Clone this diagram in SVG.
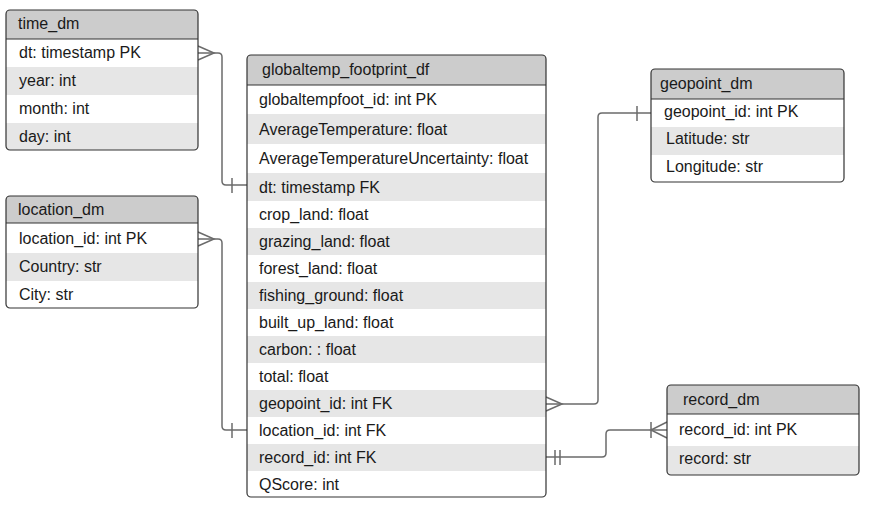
<svg xmlns="http://www.w3.org/2000/svg" width="873" height="513" viewBox="0 0 873 513">
<style>
text{font-family:"Liberation Sans",Arial,sans-serif;font-size:16px;fill:#1a1a1a}
.hd{fill:#cccccc}
.alt{fill:#e6e6e6}
.bg{fill:#ffffff}
.frame{fill:none;stroke:#333333;stroke-width:1.2}
.sep{stroke:#333333;stroke-width:1.2}
.cn{fill:none;stroke:#6b6b6b;stroke-width:1.5}
</style>
<defs>
<clipPath id="c1"><rect x="6" y="10" width="192" height="140" rx="4"/></clipPath>
<clipPath id="c2"><rect x="6" y="196" width="192" height="112" rx="4"/></clipPath>
<clipPath id="c3"><rect x="247" y="55" width="299" height="442" rx="4"/></clipPath>
<clipPath id="c4"><rect x="651" y="69" width="193" height="113" rx="4"/></clipPath>
<clipPath id="c5"><rect x="667" y="385" width="192" height="90" rx="4"/></clipPath>
</defs>
<rect width="873" height="513" fill="#ffffff"/>

<g id="connectors">
<!-- time_dm -> main -->
<path class="cn" d="M198,53 L218,53 Q222,53 222,57 L222,181 Q222,185 226,185 L247,185"/>
<path class="cn" d="M198,46 L214,53 L198,60"/>
<path class="cn" d="M232,178 L232,193"/>
<!-- location_dm -> main -->
<path class="cn" d="M198,239 L218,239 Q222,239 222,243 L222,426 Q222,430 226,430 L247,430"/>
<path class="cn" d="M198,232 L214,239 L198,246"/>
<path class="cn" d="M232,423 L232,438"/>
<!-- main -> geopoint -->
<path class="cn" d="M546,404 L594,404 Q598,404 598,400 L598,117 Q598,113 602,113 L651,113"/>
<path class="cn" d="M546,397 L562,404 L546,411"/>
<path class="cn" d="M637,106 L637,121"/>
<!-- main -> record -->
<path class="cn" d="M546,457 L602,457 Q606,457 606,453 L606,434 Q606,430 610,430 L667,430"/>
<path class="cn" d="M555,450 L555,465 M560,450 L560,465"/>
<path class="cn" d="M667,422 L651,430 L667,438 M651,422 L651,438"/>
</g>

<g id="time_dm">
<g clip-path="url(#c1)">
<rect class="bg" x="6" y="10" width="192" height="140"/>
<rect class="hd" x="6" y="10" width="192" height="29"/>
<rect class="alt" x="6" y="67" width="192" height="28"/>
<rect class="alt" x="6" y="123" width="192" height="27"/>
</g>
<line class="sep" x1="6" y1="39" x2="198" y2="39"/>
<rect class="frame" x="6" y="10" width="192" height="140" rx="4"/>
<text x="18" y="28.5">time_dm</text>
<text x="19" y="58">dt: timestamp PK</text>
<text x="19" y="86">year: int</text>
<text x="19" y="114">month: int</text>
<text x="19" y="141.5">day: int</text>
</g>

<g id="location_dm">
<g clip-path="url(#c2)">
<rect class="bg" x="6" y="196" width="192" height="112"/>
<rect class="hd" x="6" y="196" width="192" height="27"/>
<rect class="alt" x="6" y="253" width="192" height="28"/>
</g>
<line class="sep" x1="6" y1="223" x2="198" y2="223"/>
<rect class="frame" x="6" y="196" width="192" height="112" rx="4"/>
<text x="18" y="215">location_dm</text>
<text x="19" y="244">location_id: int PK</text>
<text x="19" y="271.5">Country: str</text>
<text x="19" y="299.5">City: str</text>
</g>

<g id="globaltemp_footprint_df">
<g clip-path="url(#c3)">
<rect class="bg" x="247" y="55" width="299" height="442"/>
<rect class="hd" x="247" y="55" width="299" height="30"/>
<rect class="alt" x="247" y="114" width="299" height="30"/>
<rect class="alt" x="247" y="173" width="299" height="28"/>
<rect class="alt" x="247" y="228" width="299" height="27"/>
<rect class="alt" x="247" y="282" width="299" height="27"/>
<rect class="alt" x="247" y="336" width="299" height="27"/>
<rect class="alt" x="247" y="390" width="299" height="27"/>
<rect class="alt" x="247" y="444" width="299" height="27"/>
</g>
<line class="sep" x1="247" y1="85" x2="546" y2="85"/>
<rect class="frame" x="247" y="55" width="299" height="442" rx="4"/>
<text x="262" y="74.5">globaltemp_footprint_df</text>
<text x="259" y="105">globaltempfoot_id: int PK</text>
<text x="259" y="134.5">AverageTemperature: float</text>
<text x="259" y="164">AverageTemperatureUncertainty: float</text>
<text x="259" y="192.5">dt: timestamp FK</text>
<text x="259" y="220">crop_land: float</text>
<text x="259" y="247">grazing_land: float</text>
<text x="259" y="274">forest_land: float</text>
<text x="259" y="301">fishing_ground: float</text>
<text x="259" y="328">built_up_land: float</text>
<text x="259" y="355">carbon: : float</text>
<text x="259" y="382">total: float</text>
<text x="259" y="409">geopoint_id: int FK</text>
<text x="259" y="436">location_id: int FK</text>
<text x="259" y="463">record_id: int FK</text>
<text x="259" y="490">QScore: int</text>
</g>

<g id="geopoint_dm">
<g clip-path="url(#c4)">
<rect class="bg" x="651" y="69" width="193" height="113"/>
<rect class="hd" x="651" y="69" width="193" height="30"/>
<rect class="alt" x="651" y="127" width="193" height="28"/>
</g>
<line class="sep" x1="651" y1="99" x2="844" y2="99"/>
<rect class="frame" x="651" y="69" width="193" height="113" rx="4"/>
<text x="660" y="88.5">geopoint_dm</text>
<text x="664" y="117">geopoint_id: int PK</text>
<text x="666" y="144">Latitude: str</text>
<text x="666" y="172">Longitude: str</text>
</g>

<g id="record_dm">
<g clip-path="url(#c5)">
<rect class="bg" x="667" y="385" width="192" height="90"/>
<rect class="hd" x="667" y="385" width="192" height="29"/>
<rect class="alt" x="667" y="446" width="192" height="29"/>
</g>
<line class="sep" x1="667" y1="414" x2="859" y2="414"/>
<rect class="frame" x="667" y="385" width="192" height="90" rx="4"/>
<text x="683" y="405">record_dm</text>
<text x="679" y="434.5">record_id: int PK</text>
<text x="679" y="463.5">record: str</text>
</g>
</svg>
